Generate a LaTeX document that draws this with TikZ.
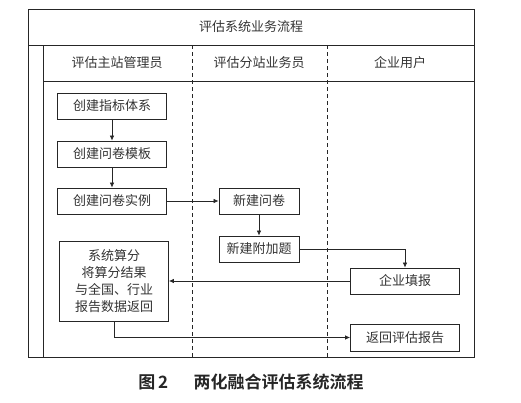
\documentclass[tikz,border=0pt]{standalone}
\usepackage{fontspec}
\setmainfont{Noto Sans CJK SC}[BoldFont={Noto Sans CJK SC Bold}]
\usepackage{tikz}
\usetikzlibrary{arrows.meta, positioning}

\begin{document}
\begin{tikzpicture}[
  x=1pt, y=-1pt,
  line width=0.7pt, draw=black!85,
  box/.style={draw, line width=0.8pt, minimum width=109pt, minimum height=26pt, inner sep=2pt, align=center, font=\fontsize{13}{17}\selectfont, text=black!80},
  head/.style={font=\fontsize{13}{15}\selectfont, text=black!80},
  edge/.style={-{Latex[length=5pt,width=4.5pt]}, line width=0.7pt},
  lane/.style={dashed, dash pattern=on 4pt off 3pt, line width=0.6pt}
]
\useasboundingbox (0,0) rectangle (521,402);

% frame
\draw (28,9) rectangle (474,357);
\draw (28,45) -- (474,45);
\draw (43,81) -- (474,81);
\draw (43,45) -- (43,357);
\draw[lane] (192,45) -- (192,357);
\draw[lane] (327,45) -- (327,357);

\node[head] (title) at (251,27) {评估系统业务流程};
\node[head] (zhuzhan) at (117,63) {评估主站管理员};
\node[head] (fenzhan) at (259,63) {评估分站业务员};
\node[head] (qiye) at (400,63) {企业用户};

% boxes
\node[box] (zhibiao) at (112,106) {创建指标体系};
\node[box] (moban) at (112,154) {创建问卷模板};
\node[box] (shili) at (112,201) {创建问卷实例};
\node[box, minimum width=80pt] (wenjuan) at (259,201) {新建问卷};
\node[box, minimum width=80pt] (fujia) at (259,249) {新建附加题};
\node[box, minimum height=80pt] (suanfen) at (114,281) {系统算分\\将算分结果\\与全国、行业\\报告数据返回};
\node[box] (tianbao) at (405,281) {企业填报};
\node[box, minimum height=27pt] (baogao) at (405,337.5) {返回评估报告};

\draw[edge] (zhibiao) -- (moban);
\draw[edge] (moban) -- (shili);
\draw[edge] (shili) -- (wenjuan);
\draw[edge] (wenjuan) -- (fujia);
\draw[edge] (fujia) -| (tianbao);
\draw[edge] (tianbao) -- (suanfen);
\draw[edge] (suanfen.south) |- (baogao);

\node[font=\fontsize{17}{20}\selectfont\bfseries, text=black!85] (caption) at (251,382) {图\,2\hspace{1.5em}两化融合评估系统流程};
\end{tikzpicture}
\end{document}
